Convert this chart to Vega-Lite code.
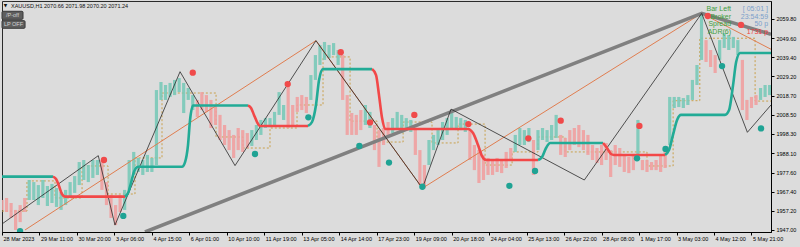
{
  "$schema": "https://vega.github.io/schema/vega-lite/v6.json",
  "width": 769,
  "height": 231,
  "autosize": {"type": "none"},
  "padding": {"left": 2, "top": 1, "right": 29, "bottom": 15},
  "background": "#dcdcdc",
  "config": {
    "font": "Liberation Sans",
    "view": {"stroke": "#2b2b2b", "strokeWidth": 1},
    "axis": {"labelFontSize": 5.5, "labelColor": "#000000", "tickColor": "#000000", "domainColor": "#000000", "grid": false, "tickSize": 3, "labelPadding": 1, "domainWidth": 1, "tickWidth": 1, "labelFont": "Liberation Sans", "labelOverlap": false, "labelFlush": false}
  },
  "datasets": {
    "price": [
      {"i":0,"lo":1957.7,"hi":1963.0,"c":"down"},{"i":4,"lo":1956.6,"hi":1964.1,"c":"down"},{"i":8,"lo":1953.4,"hi":1961.4,"c":"down"},{"i":12,"lo":1947.0,"hi":1957.7,"c":"down"},{"i":16,"lo":1951.2,"hi":1960.3,"c":"down"},{"i":20,"lo":1956.6,"hi":1964.1,"c":"down"},
      {"i":24,"lo":1963.0,"hi":1973.7,"c":"up"},{"i":28,"lo":1963.0,"hi":1972.6,"c":"up"},{"i":32,"lo":1960.3,"hi":1971.0,"c":"up"},{"i":36,"lo":1964.1,"hi":1973.7,"c":"up"},{"i":40,"lo":1959.8,"hi":1970.5,"c":"up"},{"i":44,"lo":1961.4,"hi":1971.6,"c":"up"},{"i":48,"lo":1959.3,"hi":1969.4,"c":"up"},{"i":52,"lo":1957.7,"hi":1967.3,"c":"up"},{"i":56,"lo":1960.3,"hi":1968.4,"c":"up"},{"i":60,"lo":1964.1,"hi":1972.6,"c":"up"},{"i":64,"lo":1966.8,"hi":1975.8,"c":"up"},{"i":68,"lo":1971.0,"hi":1983.3,"c":"up"},{"i":72,"lo":1973.7,"hi":1984.4,"c":"up"},{"i":76,"lo":1972.6,"hi":1981.7,"c":"up"},{"i":80,"lo":1974.8,"hi":1984.4,"c":"up"},{"i":84,"lo":1976.4,"hi":1984.4,"c":"up"},
      {"i":88,"lo":1968.4,"hi":1984.4,"c":"down"},{"i":92,"lo":1960.3,"hi":1972.6,"c":"down"},{"i":96,"lo":1953.4,"hi":1965.7,"c":"down"},{"i":100,"lo":1949.6,"hi":1960.3,"c":"down"},{"i":104,"lo":1956.6,"hi":1965.7,"c":"down"},
      {"i":108,"lo":1957.7,"hi":1968.4,"c":"up"},{"i":112,"lo":1968.4,"hi":1984.4,"c":"up"},{"i":116,"lo":1976.4,"hi":1988.7,"c":"up"},{"i":120,"lo":1978.0,"hi":1985.5,"c":"up"},{"i":124,"lo":1976.4,"hi":1984.4,"c":"up"},{"i":128,"lo":1978.0,"hi":1987.1,"c":"up"},{"i":132,"lo":1978.0,"hi":1985.5,"c":"up"},{"i":136,"lo":1981.7,"hi":2021.8,"c":"up"},{"i":140,"lo":2016.5,"hi":2026.1,"c":"up"},{"i":144,"lo":2016.5,"hi":2024.5,"c":"up"},{"i":148,"lo":2018.1,"hi":2025.6,"c":"up"},{"i":152,"lo":2019.1,"hi":2027.2,"c":"up"},{"i":156,"lo":2020.7,"hi":2028.2,"c":"up"},{"i":160,"lo":2009.5,"hi":2025.6,"c":"up"},{"i":164,"lo":2016.5,"hi":2022.9,"c":"up"},{"i":168,"lo":2011.1,"hi":2019.1,"c":"up"},
      {"i":172,"lo":2007.4,"hi":2016.5,"c":"down"},{"i":176,"lo":2011.1,"hi":2020.7,"c":"down"},{"i":180,"lo":2010.1,"hi":2019.1,"c":"down"},{"i":184,"lo":2001.5,"hi":2016.5,"c":"down"},{"i":188,"lo":2003.1,"hi":2013.8,"c":"down"},{"i":192,"lo":1995.1,"hi":2008.5,"c":"down"},{"i":196,"lo":1992.4,"hi":2003.1,"c":"down"},{"i":200,"lo":1989.7,"hi":2000.4,"c":"down"},{"i":204,"lo":1985.5,"hi":1997.8,"c":"down"},{"i":208,"lo":1989.7,"hi":2001.5,"c":"down"},{"i":212,"lo":1988.7,"hi":2000.4,"c":"down"},{"i":216,"lo":1990.8,"hi":1998.8,"c":"down"},
      {"i":220,"lo":1991.9,"hi":2000.4,"c":"up"},{"i":224,"lo":1995.1,"hi":2003.1,"c":"up"},{"i":228,"lo":1997.8,"hi":2005.8,"c":"up"},{"i":232,"lo":2001.5,"hi":2006.8,"c":"up"},{"i":236,"lo":2002.0,"hi":2006.8,"c":"up"},{"i":240,"lo":2003.1,"hi":2010.1,"c":"up"},{"i":244,"lo":2008.5,"hi":2020.7,"c":"up"},{"i":248,"lo":2005.8,"hi":2013.8,"c":"up"},
      {"i":252,"lo":2001.5,"hi":2025.6,"c":"down"},{"i":256,"lo":2003.1,"hi":2013.8,"c":"down"},{"i":260,"lo":2010.1,"hi":2018.1,"c":"down"},{"i":264,"lo":2011.1,"hi":2019.1,"c":"down"},{"i":268,"lo":2009.5,"hi":2018.1,"c":"down"},
      {"i":272,"lo":2016.5,"hi":2029.8,"c":"up"},{"i":276,"lo":2027.2,"hi":2040.5,"c":"up"},{"i":280,"lo":2035.2,"hi":2045.9,"c":"up"},{"i":284,"lo":2037.9,"hi":2047.5,"c":"up"},{"i":288,"lo":2038.9,"hi":2045.9,"c":"up"},{"i":292,"lo":2040.5,"hi":2046.9,"c":"up"},{"i":296,"lo":2035.2,"hi":2043.2,"c":"up"},
      {"i":300,"lo":2016.5,"hi":2040.5,"c":"down"},{"i":304,"lo":1997.8,"hi":2019.1,"c":"down"},{"i":308,"lo":1997.8,"hi":2009.5,"c":"down"},{"i":312,"lo":1997.8,"hi":2008.5,"c":"down"},{"i":316,"lo":2000.4,"hi":2011.1,"c":"down"},
      {"i":320,"lo":2003.1,"hi":2013.8,"c":"up"},{"i":324,"lo":2001.5,"hi":2010.1,"c":"up"},
      {"i":328,"lo":1989.7,"hi":2003.1,"c":"down"},{"i":332,"lo":1980.7,"hi":2000.4,"c":"down"},{"i":336,"lo":1992.4,"hi":2001.5,"c":"down"},{"i":340,"lo":1996.2,"hi":2004.7,"c":"down"},
      {"i":344,"lo":1998.8,"hi":2006.8,"c":"up"},{"i":348,"lo":2000.4,"hi":2010.1,"c":"up"},{"i":352,"lo":1998.8,"hi":2008.5,"c":"up"},{"i":356,"lo":2000.4,"hi":2006.8,"c":"up"},{"i":360,"lo":1999.4,"hi":2005.8,"c":"up"},
      {"i":364,"lo":1987.1,"hi":2001.5,"c":"down"},{"i":368,"lo":1971.0,"hi":1989.7,"c":"down"},{"i":372,"lo":1969.4,"hi":1981.7,"c":"down"},
      {"i":376,"lo":1981.7,"hi":1995.1,"c":"up"},{"i":380,"lo":1989.7,"hi":1997.8,"c":"up"},{"i":384,"lo":1992.4,"hi":2000.4,"c":"up"},{"i":388,"lo":1995.1,"hi":2004.7,"c":"up"},{"i":392,"lo":1997.8,"hi":2006.8,"c":"up"},{"i":396,"lo":2001.5,"hi":2011.1,"c":"up"},{"i":400,"lo":2000.4,"hi":2007.4,"c":"up"},{"i":404,"lo":2000.4,"hi":2006.8,"c":"up"},{"i":408,"lo":1999.4,"hi":2005.8,"c":"up"},
      {"i":412,"lo":1984.4,"hi":2000.4,"c":"down"},{"i":416,"lo":1979.0,"hi":1992.4,"c":"down"},{"i":420,"lo":1972.1,"hi":1989.7,"c":"down"},{"i":424,"lo":1973.7,"hi":1987.1,"c":"down"},{"i":428,"lo":1976.4,"hi":1985.5,"c":"down"},{"i":432,"lo":1976.4,"hi":1984.4,"c":"down"},{"i":436,"lo":1978.0,"hi":1985.5,"c":"down"},{"i":440,"lo":1977.4,"hi":1984.4,"c":"down"},{"i":444,"lo":1980.1,"hi":1988.7,"c":"down"},{"i":448,"lo":1984.4,"hi":1990.8,"c":"down"},
      {"i":452,"lo":1988.7,"hi":1997.8,"c":"up"},{"i":456,"lo":1992.4,"hi":2001.5,"c":"up"},{"i":460,"lo":1992.4,"hi":2000.4,"c":"up"},{"i":464,"lo":1994.0,"hi":2001.5,"c":"up"},
      {"i":468,"lo":1976.4,"hi":1995.1,"c":"down"},
      {"i":472,"lo":1989.7,"hi":2000.4,"c":"up"},{"i":476,"lo":1995.1,"hi":2001.5,"c":"up"},{"i":480,"lo":1994.0,"hi":2000.4,"c":"up"},{"i":484,"lo":1995.1,"hi":2003.1,"c":"up"},{"i":488,"lo":1996.2,"hi":2008.5,"c":"up"},
      {"i":492,"lo":1987.1,"hi":1997.8,"c":"down"},{"i":496,"lo":1986.0,"hi":1996.2,"c":"down"},{"i":500,"lo":1989.7,"hi":2000.4,"c":"down"},{"i":504,"lo":1992.4,"hi":2001.5,"c":"down"},{"i":508,"lo":1991.3,"hi":2003.1,"c":"down"},{"i":512,"lo":1989.7,"hi":2000.4,"c":"down"},{"i":516,"lo":1987.1,"hi":1997.8,"c":"down"},{"i":520,"lo":1984.4,"hi":1992.4,"c":"down"},{"i":524,"lo":1982.8,"hi":1990.8,"c":"down"},{"i":528,"lo":1981.7,"hi":1992.4,"c":"down"},{"i":532,"lo":1984.4,"hi":1993.5,"c":"down"},{"i":536,"lo":1975.3,"hi":1989.7,"c":"down"},{"i":540,"lo":1981.7,"hi":1992.4,"c":"down"},{"i":544,"lo":1980.7,"hi":1990.8,"c":"down"},{"i":548,"lo":1978.0,"hi":1987.1,"c":"down"},{"i":552,"lo":1977.4,"hi":1986.0,"c":"down"},{"i":556,"lo":1979.0,"hi":1987.1,"c":"down"},
      {"i":560,"lo":1984.4,"hi":2005.8,"c":"up"},
      {"i":564,"lo":1979.0,"hi":1984.4,"c":"down"},{"i":568,"lo":1978.0,"hi":1984.4,"c":"down"},{"i":572,"lo":1979.0,"hi":1983.3,"c":"down"},{"i":576,"lo":1979.0,"hi":1984.4,"c":"down"},{"i":580,"lo":1978.0,"hi":1987.1,"c":"down"},{"i":584,"lo":1980.1,"hi":1989.7,"c":"down"},
      {"i":588,"lo":1992.4,"hi":2018.1,"c":"up"},{"i":592,"lo":2012.2,"hi":2018.1,"c":"up"},{"i":596,"lo":2012.7,"hi":2018.1,"c":"up"},{"i":600,"lo":2012.2,"hi":2017.5,"c":"up"},{"i":604,"lo":2013.8,"hi":2019.1,"c":"up"},{"i":608,"lo":2016.5,"hi":2027.2,"c":"up"},{"i":612,"lo":2024.5,"hi":2035.2,"c":"up"},{"i":616,"lo":2037.9,"hi":2063.0,"c":"up"},
      {"i":620,"lo":2036.8,"hi":2048.5,"c":"down"},{"i":624,"lo":2034.1,"hi":2043.2,"c":"down"},{"i":628,"lo":2030.9,"hi":2040.5,"c":"down"},
      {"i":632,"lo":2037.9,"hi":2048.5,"c":"up"},{"i":636,"lo":2044.3,"hi":2052.3,"c":"up"},{"i":640,"lo":2043.2,"hi":2051.2,"c":"up"},{"i":644,"lo":2044.3,"hi":2050.2,"c":"up"},{"i":648,"lo":2040.5,"hi":2048.5,"c":"up"},
      {"i":652,"lo":2011.1,"hi":2037.9,"c":"down"},{"i":656,"lo":2005.8,"hi":2016.5,"c":"down"},{"i":660,"lo":2012.2,"hi":2018.1,"c":"down"},{"i":664,"lo":2013.8,"hi":2019.1,"c":"down"},
      {"i":668,"lo":2016.5,"hi":2022.9,"c":"up"},{"i":672,"lo":2018.1,"hi":2024.5,"c":"up"},{"i":676,"lo":2019.1,"hi":2024.5,"c":"up"}
    ],
    "trend": [
      {"i":0,"p":1975.5,"s":1,"c":"bull"},{"i":44.9,"p":1975.5,"s":1,"c":"bull"},
      {"i":44.9,"p":1975.5,"s":2,"c":"bear"},{"i":47.6,"p":1974.2,"s":2,"c":"bear"},{"i":50.2,"p":1970.5,"s":2,"c":"bear"},{"i":52.8,"p":1966.2,"s":2,"c":"bear"},{"i":55.5,"p":1964.8,"s":2,"c":"bear"},{"i":108.3,"p":1964.8,"s":2,"c":"bear"},
      {"i":108.3,"p":1964.8,"s":3,"c":"bull"},{"i":111,"p":1966.8,"s":3,"c":"bull"},{"i":113.6,"p":1972.1,"s":3,"c":"bull"},{"i":116.2,"p":1978.0,"s":3,"c":"bull"},{"i":119.8,"p":1980.8,"s":3,"c":"bull"},{"i":158.5,"p":1980.8,"s":3,"c":"bull"},{"i":161.2,"p":1983.3,"s":3,"c":"bull"},{"i":163.8,"p":1992.4,"s":3,"c":"bull"},{"i":165.6,"p":2005.8,"s":3,"c":"bull"},{"i":168.2,"p":2013.5,"s":3,"c":"bull"},{"i":216.6,"p":2013.5,"s":3,"c":"bull"},
      {"i":216.6,"p":2013.5,"s":4,"c":"bear"},{"i":219.3,"p":2012.2,"s":4,"c":"bear"},{"i":221.9,"p":2008.5,"s":4,"c":"bear"},{"i":224.6,"p":2004.7,"s":4,"c":"bear"},{"i":227.2,"p":2002.6,"s":4,"c":"bear"},{"i":269.5,"p":2002.6,"s":4,"c":"bear"},
      {"i":269.5,"p":2002.6,"s":5,"c":"bull"},{"i":273,"p":2004.7,"s":5,"c":"bull"},{"i":276.5,"p":2013.8,"s":5,"c":"bull"},{"i":279.2,"p":2027.2,"s":5,"c":"bull"},{"i":282.7,"p":2033.0,"s":5,"c":"bull"},{"i":325.9,"p":2033.0,"s":5,"c":"bull"},
      {"i":325.9,"p":2033.0,"s":6,"c":"bear"},{"i":329.4,"p":2029.8,"s":6,"c":"bear"},{"i":332,"p":2019.1,"s":6,"c":"bear"},{"i":334.7,"p":2006.8,"s":6,"c":"bear"},{"i":337.3,"p":2001.0,"s":6,"c":"bear"},{"i":410.4,"p":2001.0,"s":6,"c":"bear"},{"i":414.8,"p":1998.8,"s":6,"c":"bear"},{"i":419.2,"p":1992.4,"s":6,"c":"bear"},{"i":422.7,"p":1986.5,"s":6,"c":"bear"},{"i":426.3,"p":1984.4,"s":6,"c":"bear"},{"i":472.1,"p":1984.4,"s":6,"c":"bear"},
      {"i":472.1,"p":1984.4,"s":7,"c":"bull"},{"i":475.6,"p":1986.0,"s":7,"c":"bull"},{"i":479.1,"p":1990.8,"s":7,"c":"bull"},{"i":482.7,"p":1993.5,"s":7,"c":"bull"},{"i":529.3,"p":1993.5,"s":7,"c":"bull"},
      {"i":529.3,"p":1993.5,"s":8,"c":"bear"},{"i":532.8,"p":1990.8,"s":8,"c":"bear"},{"i":536.3,"p":1987.6,"s":8,"c":"bear"},{"i":538.9,"p":1987.1,"s":8,"c":"bear"},{"i":583.9,"p":1987.1,"s":8,"c":"bear"},
      {"i":583.9,"p":1987.1,"s":9,"c":"bull"},{"i":587.4,"p":1989.7,"s":9,"c":"bull"},{"i":590.9,"p":1997.8,"s":9,"c":"bull"},{"i":594.5,"p":2005.8,"s":9,"c":"bull"},{"i":598,"p":2008.5,"s":9,"c":"bull"},{"i":636.7,"p":2008.5,"s":9,"c":"bull"},{"i":640.3,"p":2011.1,"s":9,"c":"bull"},{"i":643.8,"p":2024.5,"s":9,"c":"bull"},{"i":646.5,"p":2036.8,"s":9,"c":"bull"},{"i":650,"p":2041.6,"s":9,"c":"bull"},{"i":677.2,"p":2041.6,"s":9,"c":"bull"}
    ],
    "zig": [
      {"i":0,"p":1950.2},{"i":84.8,"p":1986.7},{"i":99.5,"p":1949.6},{"i":156.8,"p":2031.6},{"i":205.2,"p":1981.4},{"i":276.5,"p":2048.2},{"i":370.2,"p":1969.3},{"i":395.4,"p":2011.6},{"i":512.8,"p":1973.7},{"i":616.2,"p":2062.8},{"i":656.4,"p":1999.2},{"i":677.2,"p":2013.8}
    ],
    "orange": [
      {"i":20.3,"p":1947.0,"s":1},{"i":276.5,"p":2048.2,"s":1},
      {"i":276.5,"p":2048.2,"s":2},{"i":370.2,"p":1969.3,"s":2},
      {"i":370.2,"p":1969.3,"s":3},{"i":616.2,"p":2062.8,"s":3},
      {"i":616.2,"p":2062.8,"s":4},{"i":677.2,"p":2043.6,"s":4}
    ],
    "gray": [
      {"i":125.9,"p":1945.9},{"i":616.2,"p":2062.8},{"i":677.2,"p":2051.6}
    ],
    "step": [
      {"i":0,"p":1957.1},{"i":22,"p":1973.2},{"i":46.7,"p":1964.1},{"i":70.5,"p":1981.2},{"i":93.4,"p":1966.2},{"i":117.1,"p":1985.5},{"i":140.9,"p":2020.2},{"i":188.5,"p":1996.7},{"i":212.2,"p":1990.8},{"i":236,"p":2001.5},{"i":259.8,"p":2013.8},{"i":282.7,"p":2039.5},{"i":306.5,"p":2005.2},{"i":330.3,"p":1994.0},{"i":353.2,"p":2004.7},{"i":378.7,"p":1993.5},{"i":401.6,"p":2003.6},{"i":425.4,"p":1981.7},{"i":449.2,"p":1988.7},{"i":472.1,"p":1996.7},{"i":495.8,"p":1988.7},{"i":568,"p":1981.2},{"i":591,"p":2016.1},{"i":614.5,"p":2049.5},{"i":663.2,"p":2015.9},{"i":677.2,"p":2015.9}
    ],
    "dots": [
      {"i":89.8,"p":1984.4,"c":"sell"},{"i":168,"p":2031.1,"c":"sell"},{"i":251.6,"p":2025.0,"c":"sell"},{"i":298.3,"p":2042.0,"c":"sell"},{"i":324.1,"p":2004.5,"c":"sell"},{"i":363.1,"p":2008.5,"c":"sell"},{"i":410.7,"p":2003.6,"c":"sell"},{"i":463.5,"p":1996.0,"c":"sell"},{"i":492,"p":2005.4,"c":"sell"},{"i":561.3,"p":2002.6,"c":"sell"},{"i":621.5,"p":2061.4,"c":"sell"},{"i":650.8,"p":2056.6,"c":"sell"},
      {"i":15.9,"p":1946.4,"c":"buy"},{"i":106.8,"p":1954.5,"c":"buy"},{"i":222.8,"p":1987.6,"c":"buy"},{"i":269.8,"p":2007.2,"c":"buy"},{"i":314.7,"p":1991.9,"c":"buy"},{"i":340.8,"p":1983.0,"c":"buy"},{"i":370.2,"p":1970.1,"c":"buy"},{"i":446.8,"p":1970.6,"c":"buy"},{"i":469.4,"p":1978.5,"c":"buy"},{"i":559.2,"p":1985.3,"c":"buy"},{"i":584.3,"p":1990.3,"c":"buy"},{"i":634.1,"p":2034.6,"c":"buy"},{"i":668.4,"p":2001.3,"c":"buy"}
    ],
    "info": [
      {"i":642,"p":2065.0,"txt":"Bar Left","c":"lab"},{"i":642,"p":2061.0,"txt":"Broker","c":"lab"},{"i":642,"p":2057.0,"txt":"Spread","c":"lab"},{"i":642,"p":2052.7,"txt":"ADR(6)","c":"lab"},
      {"i":674.6,"p":2065.0,"txt":"[ 05:01 ]","c":"val"},{"i":674.6,"p":2061.0,"txt":"23:54:59","c":"val"},{"i":674.6,"p":2057.0,"txt":"50 p","c":"val"},{"i":674.6,"p":2052.7,"txt":"1731 p","c":"adr"}
    ],
    "header": [
      {"i":7.9,"p":2066.7,"txt":"XAUUSD,H1  2070.66 2071.98 2070.20 2071.24"}
    ],
    "arrow": [
      {"i":3.1,"p":2066.7,"txt":"▼"}
    ],
    "buttons": [
      {"i0":0,"i1":18.5,"p0":2063.9,"p1":2059.6,"ic":9.2,"pc":2061.75,"txt":"/P-off"},
      {"i0":0,"i1":20.3,"p0":2058.9,"p1":2054.8,"ic":10.1,"pc":2056.85,"txt":"LP OFF"}
    ]
  },
  "layer": [
    {
      "data": {"name": "step"},
      "mark": {"type": "line", "interpolate": "step-after", "stroke": "#c9a04c", "strokeWidth": 1, "strokeDash": [2, 2], "clip": true},
      "encoding": {
        "x": {
          "field": "i", "type": "quantitative",
          "scale": {"domain": [0, 677.2], "nice": false, "zero": false},
          "axis": {
            "title": null, "orient": "bottom", "tickCount": 200,
            "values": [0,33,66,99,132,165,198,231,264,297,330,363,396,429,462,495,528,561,594,627,660],
            "labelExpr": "['28 Mar 2023','29 Mar 11:00','30 Mar 20:00','3 Apr 06:00','4 Apr 15:00','6 Apr 01:00','10 Apr 10:00','11 Apr 19:00','13 Apr 05:00','14 Apr 14:00','17 Apr 23:00','19 Apr 09:00','20 Apr 18:00','24 Apr 04:00','25 Apr 13:00','26 Apr 22:00','28 Apr 08:00','1 May 17:00','3 May 03:00','4 May 12:00','5 May 21:00'][round(datum.value/33)]",
            "labelAlign": "left", "labelOffset": 1, "labelFlush": false, "labelOverlap": false, "labelBaseline": "top"
          }
        },
        "y": {
          "field": "p", "type": "quantitative",
          "scale": {"domain": [1945.9, 2069.4], "nice": false, "zero": false},
          "axis": {
            "title": null, "orient": "right", "tickCount": 200,
            "values": [2059.8, 2049.6, 2039.4, 2029.2, 2018.7, 2008.5, 1998.3, 1988.1, 1977.6, 1967.4, 1957.2, 1947.0],
            "format": ".2f", "labelFlush": false, "labelOverlap": false, "labelPadding": 2
          }
        }
      }
    },
    {
      "data": {"name": "price"},
      "mark": {"type": "rule", "strokeWidth": 3.2, "opacity": 0.9, "clip": true},
      "encoding": {
        "x": {"field": "i", "type": "quantitative", "axis": {"title": null}},
        "y": {"field": "lo", "type": "quantitative", "axis": {"title": null}},
        "y2": {"field": "hi"},
        "color": {"field": "c", "type": "nominal", "legend": null,
          "scale": {"domain": ["up","down","bull","bear","buy","sell","lab","val","adr"], "range": ["#79c9b8","#f0a0a0","#22ab96","#f24848","#1fa394","#f04a4a","#3e9e3e","#7b9fcb","#f03c3c"]}}
      }
    },
    {
      "data": {"name": "orange"},
      "mark": {"type": "line", "stroke": "#e07d4f", "strokeWidth": 1, "clip": true},
      "encoding": {
        "x": {"field": "i", "type": "quantitative", "axis": {"title": null}},
        "y": {"field": "p", "type": "quantitative", "axis": {"title": null}},
        "detail": {"field": "s", "type": "nominal"}
      }
    },
    {
      "data": {"name": "gray"},
      "mark": {"type": "line", "stroke": "#808080", "strokeWidth": 3.5, "clip": true},
      "encoding": {
        "x": {"field": "i", "type": "quantitative", "axis": {"title": null}},
        "y": {"field": "p", "type": "quantitative", "axis": {"title": null}}
      }
    },
    {
      "data": {"name": "zig"},
      "mark": {"type": "line", "stroke": "#2a2a2a", "strokeWidth": 0.8, "clip": true},
      "encoding": {
        "x": {"field": "i", "type": "quantitative", "axis": {"title": null}},
        "y": {"field": "p", "type": "quantitative", "axis": {"title": null}}
      }
    },
    {
      "data": {"name": "trend"},
      "mark": {"type": "line", "strokeWidth": 2.6, "interpolate": "monotone", "clip": true},
      "encoding": {
        "x": {"field": "i", "type": "quantitative", "axis": {"title": null}},
        "y": {"field": "p", "type": "quantitative", "axis": {"title": null}},
        "detail": {"field": "s", "type": "nominal"},
        "color": {"field": "c", "type": "nominal", "legend": null,
          "scale": {"domain": ["up","down","bull","bear","buy","sell","lab","val","adr"], "range": ["#79c9b8","#f0a0a0","#22ab96","#f24848","#1fa394","#f04a4a","#3e9e3e","#7b9fcb","#f03c3c"]}}
      }
    },
    {
      "data": {"name": "dots"},
      "mark": {"type": "circle", "size": 40, "opacity": 1, "clip": true},
      "encoding": {
        "x": {"field": "i", "type": "quantitative", "axis": {"title": null}},
        "y": {"field": "p", "type": "quantitative", "axis": {"title": null}},
        "color": {"field": "c", "type": "nominal", "legend": null,
          "scale": {"domain": ["up","down","bull","bear","buy","sell","lab","val","adr"], "range": ["#79c9b8","#f0a0a0","#22ab96","#f24848","#1fa394","#f04a4a","#3e9e3e","#7b9fcb","#f03c3c"]}}
      }
    },
    {
      "data": {"name": "info"},
      "mark": {"type": "text", "align": "right", "baseline": "middle", "fontSize": 7, "font": "Liberation Sans"},
      "encoding": {
        "x": {"field": "i", "type": "quantitative", "axis": {"title": null}},
        "y": {"field": "p", "type": "quantitative", "axis": {"title": null}},
        "text": {"field": "txt"},
        "color": {"field": "c", "type": "nominal", "legend": null,
          "scale": {"domain": ["up","down","bull","bear","buy","sell","lab","val","adr"], "range": ["#79c9b8","#f0a0a0","#22ab96","#f24848","#1fa394","#f04a4a","#3e9e3e","#7b9fcb","#f03c3c"]}}
      }
    },
    {
      "data": {"name": "header"},
      "mark": {"type": "text", "align": "left", "baseline": "middle", "fontSize": 5.5, "color": "#111111", "font": "Liberation Sans"},
      "encoding": {
        "x": {"field": "i", "type": "quantitative", "axis": {"title": null}},
        "y": {"field": "p", "type": "quantitative", "axis": {"title": null}},
        "text": {"field": "txt"}
      }
    },
    {
      "data": {"name": "arrow"},
      "mark": {"type": "text", "align": "center", "baseline": "middle", "fontSize": 4.5, "color": "#111111", "font": "DejaVu Sans"},
      "encoding": {
        "x": {"field": "i", "type": "quantitative", "axis": {"title": null}},
        "y": {"field": "p", "type": "quantitative", "axis": {"title": null}},
        "text": {"field": "txt"}
      }
    },
    {
      "data": {"name": "buttons"},
      "mark": {"type": "rect", "fill": "#5e5e5e", "stroke": "#3a3a3a", "strokeWidth": 1, "cornerRadius": 1},
      "encoding": {
        "x": {"field": "i0", "type": "quantitative", "axis": {"title": null}},
        "x2": {"field": "i1"},
        "y": {"field": "p0", "type": "quantitative", "axis": {"title": null}},
        "y2": {"field": "p1"}
      }
    },
    {
      "data": {"name": "buttons"},
      "mark": {"type": "text", "align": "center", "baseline": "middle", "fontSize": 5.5, "color": "#d2d2d2", "font": "Liberation Sans"},
      "encoding": {
        "x": {"field": "ic", "type": "quantitative", "axis": {"title": null}},
        "y": {"field": "pc", "type": "quantitative", "axis": {"title": null}},
        "text": {"field": "txt"}
      }
    }
  ]
}
